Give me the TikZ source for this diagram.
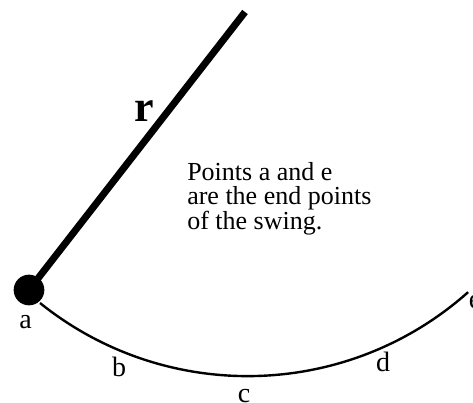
\documentclass[tikz,border=0pt]{standalone}
\usepackage{fontspec}
\setmainfont{Liberation Serif}
\tikzset{lbl/.style={inner sep=0pt,font=\fontsize{21}{21}\selectfont}}
\begin{document}
\begin{tikzpicture}[x=0.75pt,y=-0.75pt]
\useasboundingbox (0,0) rectangle (473,402);
\coordinate (top) at (245,12);
\coordinate (start) at (40,303);
\node[circle,fill,inner sep=0pt,minimum size=23pt] (bob) at (29,290){};
\draw[line width=5.25pt] (bob.center)--(top);
\draw[line width=1.8pt] (start) arc[start angle=128.8,end angle=48.3,radius=331.4];
\node[inner sep=0pt,font=\fontsize{33}{33}\selectfont\bfseries] (r) at (144,111){r};
\node[lbl] (la) at (25.5,322.5){a};\node[lbl] (lb) at (119,367){b};\node[lbl] (lc) at (244,396.5){c};
\node[lbl] (ld) at (383,362){d};\node[lbl] (le) at (475,302){e};
\node[inner sep=0pt,anchor=north west,align=left,font=\fontsize{19.5}{17.6}\selectfont] (note) at (187,162.5)
  {Points a and e\\are the end points\\of the swing.};
\end{tikzpicture}
\end{document}
